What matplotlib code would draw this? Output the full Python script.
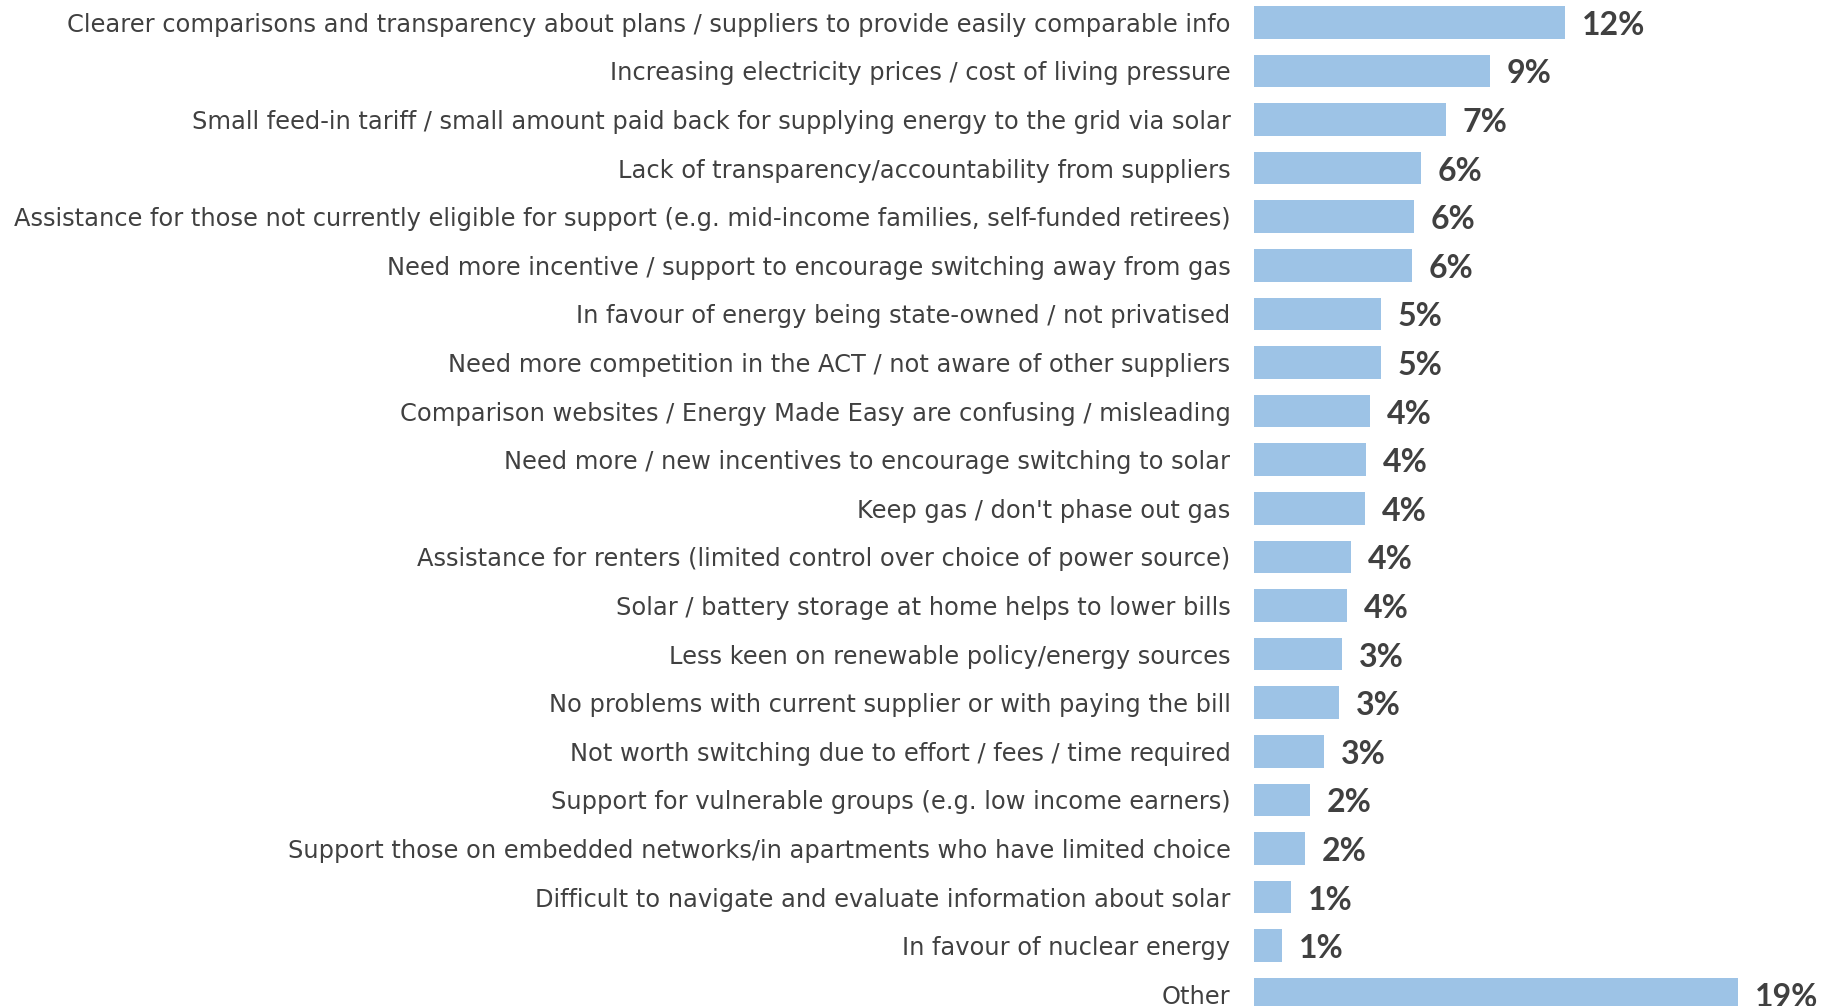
import matplotlib
matplotlib.use("Agg")
import matplotlib.pyplot as plt

categories = [
    "Clearer comparisons and transparency about plans / suppliers to provide easily comparable info",
    "Increasing electricity prices / cost of living pressure",
    "Small feed-in tariff / small amount paid back for supplying energy to the grid via solar",
    "Lack of transparency/accountability from suppliers",
    "Assistance for those not currently eligible for support (e.g. mid-income families, self-funded retirees)",
    "Need more incentive / support to encourage switching away from gas",
    "In favour of energy being state-owned / not privatised",
    "Need more competition in the ACT / not aware of other suppliers",
    "Comparison websites / Energy Made Easy are confusing / misleading",
    "Need more / new incentives to encourage switching to solar",
    "Keep gas / don't phase out gas",
    "Assistance for renters (limited control over choice of power source)",
    "Solar / battery storage at home helps to lower bills",
    "Less keen on renewable policy/energy sources",
    "No problems with current supplier or with paying the bill",
    "Not worth switching due to effort / fees / time required",
    "Support for vulnerable groups (e.g. low income earners)",
    "Support those on embedded networks/in apartments who have limited choice",
    "Difficult to navigate and evaluate information about solar",
    "In favour of nuclear energy",
    "Other",
]
values = [12.0, 9.1, 7.41, 6.45, 6.18, 6.10, 4.90, 4.90, 4.48, 4.32, 4.30,
          3.76, 3.58, 3.40, 3.27, 2.70, 2.15, 1.95, 1.43, 1.08, 18.69]
labels = ["12%", "9%", "7%", "6%", "6%", "6%", "5%", "5%", "4%", "4%", "4%",
          "4%", "4%", "3%", "3%", "3%", "2%", "2%", "1%", "1%", "19%"]

W, H = 1827, 1006
fig = plt.figure(figsize=(W / 100, H / 100), dpi=100)
left_px = 1254
xmax = 20.0
right_px = left_px + 25.9 * xmax
top_px = -2
slot = 48.6
n = len(categories)
bottom_px = top_px + slot * n
ax = fig.add_axes([left_px / W, 1 - bottom_px / H, (right_px - left_px) / W, (bottom_px - top_px) / H])

pos = list(range(n))
ax.barh(pos, values, height=0.67, color="#9DC3E6", edgecolor="none")
ax.set_xlim(0, xmax)
ax.set_ylim(n - 0.5, -0.5)

for p, v, lab in zip(pos, values, labels):
    ax.annotate(lab, (v, p), xytext=(17, -3), textcoords="offset pixels",
                ha="left", va="center", fontsize=23, fontweight="bold",
                color="#404040", family="Lato", annotation_clip=False)

ax.set_yticks(pos)
ax.set_yticklabels(categories, fontsize=17.4, color="#404040", family="DejaVu Sans")
ax.tick_params(axis="y", length=0, pad=17)
ax.set_xticks([])
for s in ax.spines.values():
    s.set_visible(False)

fig.savefig("out.png", dpi=100)
